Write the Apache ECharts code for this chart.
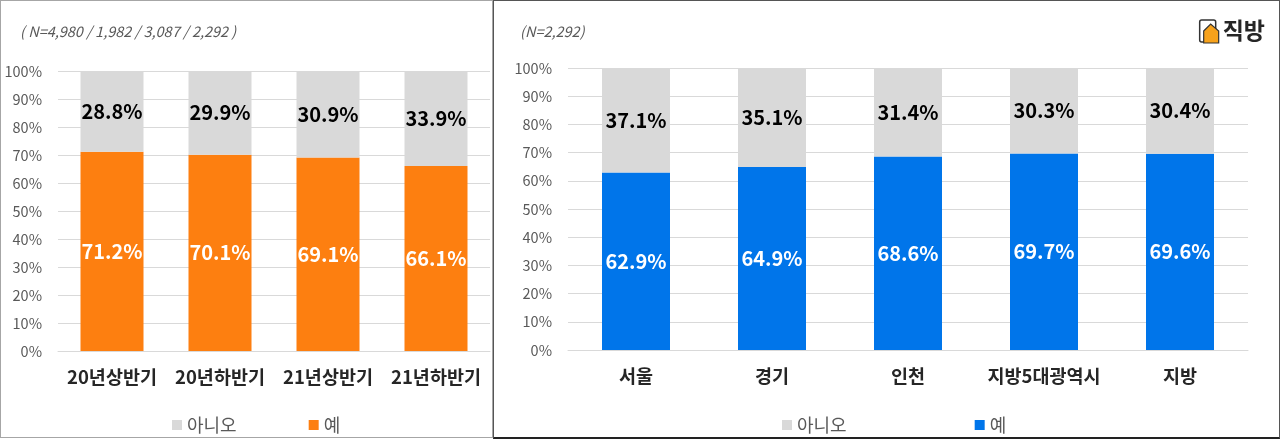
<!DOCTYPE html>
<html>
<head>
<meta charset="utf-8">
<script src="https://cdn.jsdelivr.net/npm/echarts@6/dist/echarts.min.js"></script>
<style>
  html, body { margin: 0; padding: 0; background: #fff; }
  #left { position: absolute; left: 0; top: 0; width: 491px; height: 436px; border: 1px solid #a6a6a6; }
  #right { position: absolute; left: 493px; top: 0; width: 785px; height: 436px; border: 1px solid #555; border-bottom: 2px solid #222; }
</style>
</head>
<body>
<div id="left"></div>
<div id="right"></div>
<script>
var periods = ['20년상반기', '20년하반기', '21년상반기', '21년하반기'];
var periodYes = [71.2, 70.1, 69.1, 66.1];
var periodNo = [28.8, 29.9, 30.9, 33.9];

var regions = ['서울', '경기', '인천', '지방5대광역시', '지방'];
var regionYes = [62.9, 64.9, 68.6, 69.7, 69.6];
var regionNo = [37.1, 35.1, 31.4, 30.3, 30.4];

var font = "'Noto Sans CJK KR', 'Noto Sans', sans-serif";

function makeOption(cats, yes, no, yesColor, grid, barWidth, legendLeft, legendGap, note, noteLeft) {
    return {
        textStyle: { fontFamily: font },
        title: {
            text: note,
            left: noteLeft,
            top: 18,
            textStyle: { fontFamily: font, fontSize: 14.5, fontWeight: 'normal', fontStyle: 'italic', color: '#595959' }
        },
        legend: {
            data: ['아니오', '예'],
            left: legendLeft,
            top: 410,
            icon: 'rect',
            itemWidth: 10,
            itemHeight: 10,
            itemGap: legendGap,
            textStyle: { fontFamily: font, fontSize: 18, color: '#595959' }
        },
        grid: grid,
        xAxis: {
            type: 'category',
            data: cats,
            axisLine: { lineStyle: { color: '#d9d9d9' } },
            axisTick: { show: false },
            axisLabel: { interval: 0, hideOverlap: false, margin: 17, fontFamily: font, fontSize: 18.5, fontWeight: 'bold', color: '#262626' }
        },
        yAxis: {
            type: 'value',
            min: 0,
            max: 100,
            interval: 10,
            axisLabel: { formatter: '{value}%', fontFamily: font, fontSize: 14.5, color: '#595959', margin: 16 },
            splitLine: { lineStyle: { color: '#d9d9d9' } }
        },
        series: [
            {
                name: '예',
                type: 'bar',
                stack: 'all',
                barWidth: barWidth,
                data: yes,
                itemStyle: { color: yesColor },
                label: { show: true, position: 'inside', formatter: '{c}%', fontFamily: font, fontSize: 20, fontWeight: 'bold', color: '#fff' }
            },
            {
                name: '아니오',
                type: 'bar',
                stack: 'all',
                barWidth: barWidth,
                data: no,
                itemStyle: { color: '#d9d9d9' },
                label: { show: true, position: 'inside', formatter: '{c}%', fontFamily: font, fontSize: 20, fontWeight: 'bold', color: '#000' }
            }
        ]
    };
}

var leftChart = echarts.init(document.getElementById('left'));
leftChart.setOption(makeOption(periods, periodYes, periodNo, '#fd7f10',
    { left: 57, right: 2, top: 70, bottom: 86 }, 63, 166, 72,
    '( N=4,980 / 1,982 / 3,087 / 2,292 )', 14));

var rightChart = echarts.init(document.getElementById('right'));
var rightOption = makeOption(regions, regionYes, regionNo, '#0075ea',
    { left: 74, right: 31, top: 67, bottom: 87 }, 68, 283, 128,
    '(N=2,292)', 21);
rightOption.graphic = [
    {
        type: 'group',
        right: 14,
        top: 18,
        children: [
            { type: 'rect', shape: { x: 0, y: 1, width: 16, height: 22, r: 2 }, style: { fill: '#fff', stroke: '#333', lineWidth: 1.5 } },
            { type: 'polygon', shape: { points: [[4, 12], [11, 5], [19, 12], [19, 24], [4, 24]] }, style: { fill: '#f7a21b', stroke: '#333', lineWidth: 1.2 } },
            { type: 'text', x: 23, y: 0, style: { text: '직방', font: 'bold 23px ' + font, fill: '#262626' } }
        ]
    }
];
rightChart.setOption(rightOption);
</script>
</body>
</html>
